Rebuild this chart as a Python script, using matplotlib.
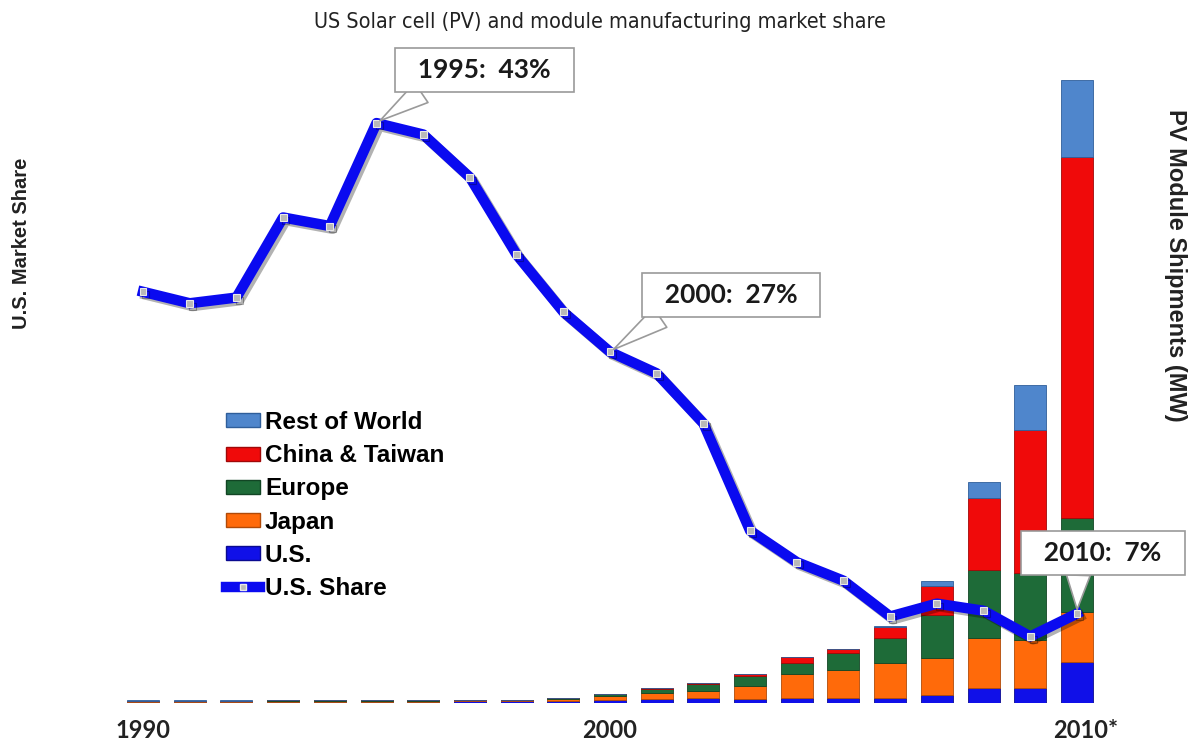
import matplotlib
matplotlib.use("Agg")
import matplotlib.pyplot as plt
import matplotlib.patheffects as pe
from matplotlib.patches import Patch
from matplotlib.lines import Line2D
from matplotlib.transforms import ScaledTranslation
import numpy as np

years = list(range(1990, 2011))
tick_labels = ["1990", "2000", "2010*"]

# PV module shipments (MW) by region
us     = [40, 40, 40, 42, 45, 50, 55, 60, 65, 90, 110, 150, 190, 150, 190, 190, 190, 300, 580, 580, 1580]
japan  = [20, 22, 25, 26, 28, 30, 35, 45, 40, 70, 150, 230, 270, 500, 920, 1080, 1350, 1420, 1920, 1850, 1920]
europe = [15, 15, 30, 32, 35, 35, 20, 15, 10, 30, 70, 150, 270, 380, 420, 650, 960, 1650, 2620, 2580, 3620]
china  = [0, 0, 0, 0, 0, 0, 5, 0, 0, 15, 30, 35, 40, 80, 230, 150, 420, 1150, 2770, 5500, 13900]
rest   = [30, 30, 10, 10, 10, 8, 5, 3, 2, 5, 5, 0, 0, 0, 0, 0, 40, 190, 620, 1730, 2960]

# U.S. market share (%)
us_share = [31.2, 30.4, 30.8, 36.4, 35.8, 43.0, 42.2, 39.2, 33.8, 29.8, 27.0,
            25.5, 22.0, 14.5, 12.3, 11.0, 8.5, 9.4, 8.9, 7.1, 8.7]

series = [("U.S.", us, "#1010E8"), ("Japan", japan, "#FF6A0A"),
          ("Europe", europe, "#1E6B38"), ("China & Taiwan", china, "#F00A0A"),
          ("Rest of World", rest, "#4F86CC")]
edge = {"U.S.": "#0A0A90", "Japan": "#B04A08", "Europe": "#124524",
        "China & Taiwan": "#A00808", "Rest of World": "#2F5E9A"}

fig = plt.figure(figsize=(12.02, 7.47), dpi=100)
ax = fig.add_axes([110/1202, 44/747, 1000/1202, 628/747])
x = np.arange(len(years))

bottom = np.zeros(len(years))
for name, vals, col in series:
    v = np.array(vals, dtype=float)
    ax.bar(x, v, bottom=bottom, width=0.685, color=col, edgecolor=edge[name],
           linewidth=0.6, zorder=2)
    bottom += v
ax.set_xlim(-0.707, 20.707)
ax.set_ylim(0, 24178)

ax2 = ax.twinx()
ax2.set_ylim(2.45, 46.36)
ax2.plot(x, us_share, color="#0A0AF0", lw=7.5, marker="s", markersize=5,
         markerfacecolor="#B8B8B8", markeredgecolor="#E8E8E8", markeredgewidth=0.8,
         solid_joinstyle="round", zorder=5,
         path_effects=[pe.SimpleLineShadow(offset=(2, -2), alpha=0.3), pe.Normal()])

for a in (ax, ax2):
    for s in a.spines.values():
        s.set_visible(False)
    a.tick_params(left=False, right=False, bottom=False, labelleft=False, labelright=False)

ax.set_xticks([0, 10, 20])
ax.set_xticklabels(tick_labels, fontsize=17, fontweight="bold", family="Lato", color="#222222")
ax.tick_params(axis="x", pad=8)
last = ax.get_xticklabels()[-1]
last.set_transform(last.get_transform() + ScaledTranslation(9/100, 0, fig.dpi_scale_trans))

# callouts
callouts = [(5, "1995:  43%", (108, 53), (0.2, 0.0)),
            (10, "2000:  27%", (121, 57), (0.15, 0.0)),
            (20, "2010:  7%", (26, 61), (0.33, 0.0))]
for idx, txt, off, rp in callouts:
    ax2.annotate("  " + txt + "  ", xy=(idx, us_share[idx]), xytext=off,
                 textcoords="offset pixels",
                 ha="center", va="center", fontsize=19, fontweight="bold", family="Lato",
                 color="#1A1A1A", zorder=10,
                 bbox=dict(boxstyle="square,pad=0.38", fc="white", ec="#9A9A9A", lw=1.2),
                 arrowprops=dict(arrowstyle="wedge,tail_width=0.9,shrink_factor=0.5",
                                 fc="white", ec="#9A9A9A", lw=1.2, relpos=rp,
                                 shrinkA=0, shrinkB=3))

# legend
handles = [Patch(facecolor=c, edgecolor=edge[n], label=n) for n, _, c in series[::-1]]
handles.append(Line2D([0], [0], color="#0A0AF0", lw=7.5, marker="s", markersize=5,
                      markerfacecolor="#B8B8B8", markeredgecolor="#E8E8E8", label="U.S. Share"))
fig.legend(handles=handles, loc="upper left", bbox_to_anchor=(226/1202, 1 - 411/747),
           frameon=False, prop=dict(family="Liberation Sans", weight="bold", size=17.5),
           handlelength=1.4, handleheight=0.5, handletextpad=0.2, labelspacing=0.42,
           borderpad=0, borderaxespad=0)

fig.text(600/1202, 1 - 22/747, "US Solar cell (PV) and module manufacturing market share",
         ha="center", va="center", fontsize=15.5, fontstretch="condensed",
         family="DejaVu Sans", color="#222222")
fig.text(22/1202, 1 - 243/747, "U.S. Market Share", rotation=90, ha="center", va="center",
         fontsize=14.5, fontweight="bold", family="Liberation Sans", color="#222222")
fig.text(1175/1202, 1 - 265/747, "PV Module Shipments (MW)", rotation=270, ha="center",
         va="center", fontsize=17, fontweight="bold", family="Liberation Sans", color="#222222")

fig.savefig("out.png", dpi=100)
